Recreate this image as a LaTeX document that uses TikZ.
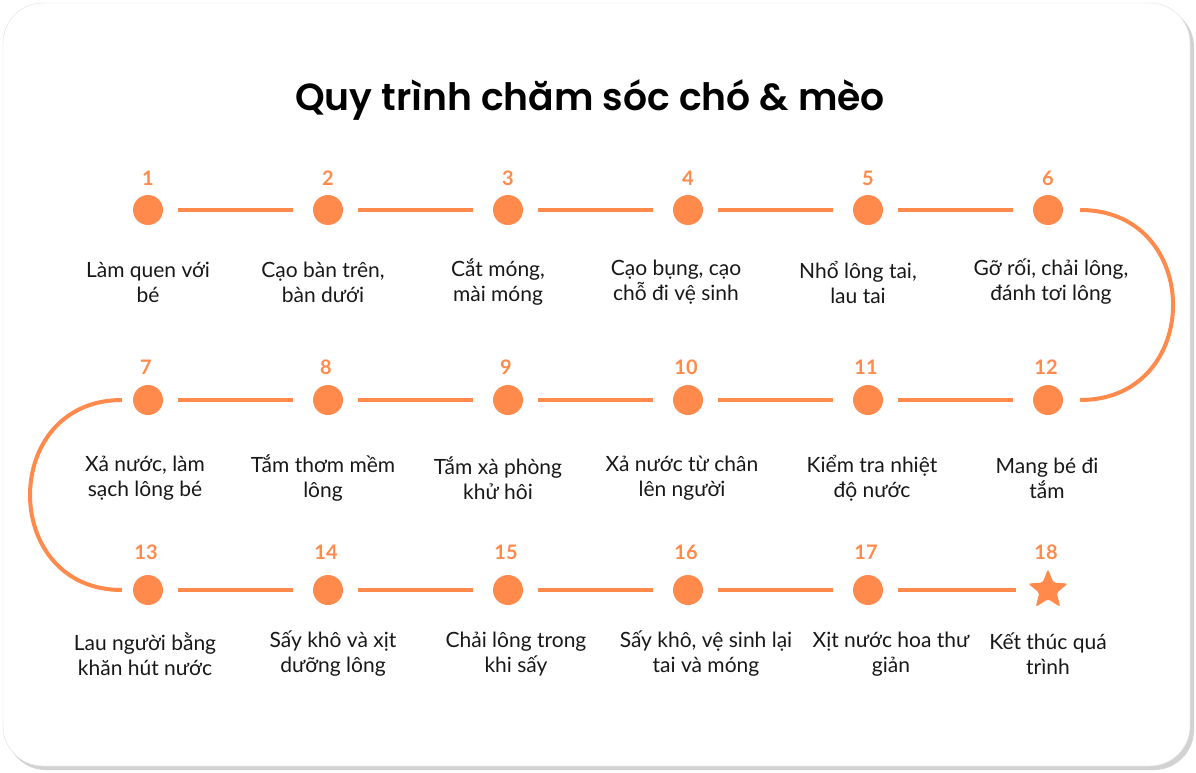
\documentclass[tikz,border=0pt]{standalone}
\usepackage{fontspec}
\setmainfont{Lato}
\newfontfamily\titlefont{Poppins}[BoldFont={Poppins SemiBold}]
\usetikzlibrary{shapes.geometric}
\definecolor{stepcol}{RGB}{255,138,76}
\definecolor{inkcol}{RGB}{24,24,24}
\begin{document}
\begin{tikzpicture}[x=1pt,y=-1pt]
 \tikzset{point/.style = {circle, fill=stepcol, minimum size=30pt, inner sep=0pt}}
 \tikzset{num/.style = {text=stepcol, font=\bfseries\fontsize{20}{20}\selectfont}}
 \tikzset{txt/.style = {align=center, text=inkcol, font=\fontsize{21}{25}\selectfont}}
 \tikzset{link/.style = {draw=stepcol, line width=4pt, shorten <=15pt, shorten >=20pt}}
 \def\rowa{210}
 \def\rowb{400}
 \def\rowc{590}

 % card
 \useasboundingbox (0,0) rectangle (1196,773);
 \fill[gray!35, rounded corners=40pt] (6,7) rectangle (1194,770);
 \draw[gray!25, fill=white, rounded corners=40pt] (3,3) rectangle (1190,766);

 \node[font=\titlefont\bfseries\fontsize{37.7}{38}\selectfont, text=black] (title) at (590,100) {Quy trình chăm sóc chó \& mèo};

 % row 1
 \node[point] (s1) at (148,\rowa) {};
 \node[point] (s2) at (328,\rowa) {};
 \node[point] (s3) at (508,\rowa) {};
 \node[point] (s4) at (688,\rowa) {};
 \node[point] (s5) at (868,\rowa) {};
 \node[point] (s6) at (1048,\rowa) {};

 \node[num] (n1) at (148,178) {1};
 \node[num] (n2) at (328,178) {2};
 \node[num] (n3) at (508,178) {3};
 \node[num] (n4) at (688,178) {4};
 \node[num] (n5) at (868,178) {5};
 \node[num] (n6) at (1048,178) {6};

 \node[txt] (t1) at (148,282) {Làm quen với\\bé};
 \node[txt] (t2) at (323,282) {Cạo bàn trên,\\bàn dưới};
 \node[txt] (t3) at (498,282) {Cắt móng,\\mài móng};
 \node[txt] (t4) at (676,282) {Cạo bụng, cạo\\chỗ đi vệ sinh};
 \node[txt] (t5) at (858,282) {Nhổ lông tai,\\lau tai};
 \node[txt] (t6) at (1051,282) {Gỡ rối, chải lông,\\đánh tơi lông};

 % row 2
 \node[point] (s7) at (148,\rowb) {};
 \node[point] (s8) at (328,\rowb) {};
 \node[point] (s9) at (508,\rowb) {};
 \node[point] (s10) at (688,\rowb) {};
 \node[point] (s11) at (868,\rowb) {};
 \node[point] (s12) at (1048,\rowb) {};

 \node[num] (n7) at (146,367) {7};
 \node[num] (n8) at (326,367) {8};
 \node[num] (n9) at (506,367) {9};
 \node[num] (n10) at (686,367) {10};
 \node[num] (n11) at (866,367) {11};
 \node[num] (n12) at (1046,367) {12};

 \node[txt] (t7) at (145,478) {Xả nước, làm\\sạch lông bé};
 \node[txt] (t8) at (323,478) {Tắm thơm mềm\\lông};
 \node[txt] (t9) at (498,478) {Tắm xà phòng\\khử hôi};
 \node[txt] (t10) at (682,478) {Xả nước từ chân\\lên người};
 \node[txt] (t11) at (872,478) {Kiểm tra nhiệt\\độ nước};
 \node[txt] (t12) at (1047,478) {Mang bé đi\\tắm};

 % row 3
 \node[point] (s13) at (148,\rowc) {};
 \node[point] (s14) at (328,\rowc) {};
 \node[point] (s15) at (508,\rowc) {};
 \node[point] (s16) at (688,\rowc) {};
 \node[point] (s17) at (868,\rowc) {};
 \node[star, star points=5, star point ratio=2.3, fill=stepcol, minimum size=42pt, inner sep=0pt,
   rounded corners=2.5pt] (s18) at (1048,\rowc) {};

 \node[num] (n13) at (146,552) {13};
 \node[num] (n14) at (326,552) {14};
 \node[num] (n15) at (506,552) {15};
 \node[num] (n16) at (686,552) {16};
 \node[num] (n17) at (866,552) {17};
 \node[num] (n18) at (1046,552) {18};

 \node[txt] (t13) at (145,654) {Lau người bằng\\khăn hút nước};
 \node[txt] (t14) at (333,654) {Sấy khô và xịt\\dưỡng lông};
 \node[txt] (t15) at (516,654) {Chải lông trong\\khi sấy};
 \node[txt] (t16) at (706,654) {Sấy khô, vệ sinh lại\\tai và móng};
 \node[txt] (t17) at (891,654) {Xịt nước hoa thư\\giản};
 \node[txt] (t18) at (1048,654) {Kết thúc quá\\trình};

 % links
 \draw[link] (s1) -- (s2);
 \draw[link] (s2) -- (s3);
 \draw[link] (s3) -- (s4);
 \draw[link] (s4) -- (s5);
 \draw[link] (s5) -- (s6);
 \draw[link,shorten <=17pt,shorten >=17pt] (s6.east) to[out=0,in=0,looseness=1.9] (s12.east);
 \draw[link] (s7) -- (s8);
 \draw[link] (s8) -- (s9);
 \draw[link] (s9) -- (s10);
 \draw[link] (s10) -- (s11);
 \draw[link] (s11) -- (s12);
 \draw[link,shorten <=11pt,shorten >=11pt] (s7.west) to[out=180,in=180,looseness=1.8] (s13.west);
 \draw[link] (s13) -- (s14);
 \draw[link] (s14) -- (s15);
 \draw[link] (s15) -- (s16);
 \draw[link] (s16) -- (s17);
 \draw[link] (s17) -- (s18);

\end{tikzpicture}
\end{document}
